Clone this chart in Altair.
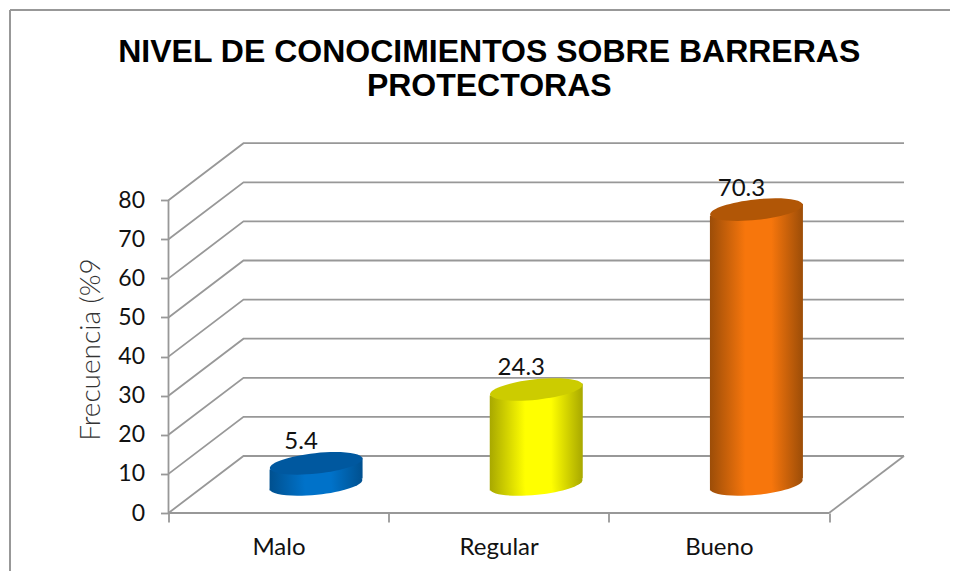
import altair as alt
import pandas as pd

categorias = ["Malo", "Regular", "Bueno"]
valores = [5.4, 24.3, 70.3]
etiquetas = ["5.4", "24.3", "70.3"]
colores = [
    ("#00508f", "#0072c9", "#00589f"),
    ("#a8a800", "#ffff00", "#cccc00"),
    ("#9c4d08", "#f7760c", "#b15606"),
]
ticks = [0, 10, 20, 30, 40, 50, 60, 70, 80]

# scene geometry in data units
PX_X = 220.17
PX_Y = 3.91
DX = 75 / PX_X
DY = 57 / PX_Y
XDOM = [0, 737.5 / PX_X]
YDOM = [0, 370 / PX_Y]
GRIS = "#989898"
BAR_RX = 46.5 / PX_X
TILT = 6 / PX_Y

xs = alt.Scale(domain=XDOM, nice=False, zero=False)
ys = alt.Scale(domain=YDOM, nice=False, zero=False)
AX = alt.Axis(
    values=[0, 1, 2, 3], grid=False, domain=False, ticks=True, tickColor=GRIS, tickWidth=1.8, tickSize=9,
    labelExpr="datum.value==0?'Malo':datum.value==1?'Regular':datum.value==2?'Bueno':''",
    labelOffset=110, labelFont="Lato", labelFontSize=24, labelColor="#111111", labelPadding=13, labelAngle=0,
    labelOverlap=False, labelFlush=False, labelBound=False)
AY = alt.Axis(
    values=ticks, grid=False, domain=False, ticks=True, tickColor=GRIS, tickWidth=1.8, tickSize=8,
    labelFont="Lato", labelFontSize=23, labelColor="#111111", labelPadding=16,
    labelOverlap=False, labelFlush=False, labelBound=False,
    titleFont="Lato", titleFontWeight=300, titleFontSize=28, titleColor="#333333",
    titleX=-63, titleY=206)
X = lambda f="x": alt.X(f + ":Q", scale=xs, axis=AX, title=None)
Y = lambda f="y": alt.Y(f + ":Q", scale=ys, axis=AY, title="Frecuencia (%9")

# walls
rows = []
for t in ticks:
    rows += [dict(g=t, o=0, x=0, y=t), dict(g=t, o=1, x=DX, y=t + DY), dict(g=t, o=2, x=3 + DX, y=t + DY)]
rows += [dict(g=-1, o=0, x=3, y=0), dict(g=-1, o=1, x=3 + DX, y=DY)]
walls = alt.Chart(pd.DataFrame(rows)).mark_line(color=GRIS, strokeWidth=1.8).encode(
    x=X(), y=Y(), detail="g:N", order="o:Q")

# axis lines
ejes = [
    alt.Chart(pd.DataFrame({"x": [0, 0], "y": [0, 80]})).mark_line(color=GRIS, strokeWidth=1.8).encode(x=X(), y=Y()),
    alt.Chart(pd.DataFrame({"x": [0, 3], "y": [0, 0]})).mark_line(color=GRIS, strokeWidth=1.8).encode(x=X(), y=Y()),
]

# outer frame
FL = (10 - 168.5) / PX_X
FR = (950 - 168.5) / PX_X
FT = (513 - 10) / PX_Y
FB = (513 - 571) / PX_Y
frame = [
    alt.Chart(pd.DataFrame({"x": [FL, FL], "y": [FB, FT]})).mark_line(color=GRIS, strokeWidth=2, clip=False).encode(x=X(), y=Y()),
    alt.Chart(pd.DataFrame({"x": [FL, FR], "y": [FT, FT]})).mark_line(color=GRIS, strokeWidth=2, clip=False).encode(x=X(), y=Y()),
]

ELIPSE = "M-1,0A1,0.22,0,1,1,1,0A1,0.22,0,1,1,-1,0Z"
SIZE = 93 ** 2

def grad(c):
    return alt.LinearGradient(
        gradient="linear", x1=0, x2=1, y1=0, y2=0,
        stops=[alt.GradientStop(offset=0, color=c[0]),
               alt.GradientStop(offset=0.38, color=c[1]),
               alt.GradientStop(offset=0.66, color=c[1]),
               alt.GradientStop(offset=1, color=c[0])])

barras = []
for i, (cat, v, lab, c) in enumerate(zip(categorias, valores, etiquetas, colores)):
    cx = i + 0.5 + DX / 2
    y0 = DY / 2
    y1 = DY / 2 + v
    body = pd.DataFrame({
        "x": [cx - BAR_RX, cx + BAR_RX],
        "y": [y1 - TILT, y1 + TILT],
        "y2": [y0 - TILT, y0 + TILT],
    })
    barras.append(alt.Chart(pd.DataFrame({"x": [cx], "y": [y0]})).mark_point(
        shape=ELIPSE, size=SIZE, filled=True, fill=grad(c), opacity=1, angle=354).encode(x=X(), y=Y()))
    barras.append(alt.Chart(body).mark_area(fill=grad(c), orient="vertical", opacity=1).encode(
        x=X(), y=Y(), y2="y2:Q"))
    barras.append(alt.Chart(pd.DataFrame({"x": [cx], "y": [y1]})).mark_point(
        shape=ELIPSE, size=SIZE, filled=True, fill=c[2], opacity=1, angle=354).encode(x=X(), y=Y()))
    barras.append(alt.Chart(pd.DataFrame({"x": [cx], "y": [y1], "t": [lab]})).mark_text(
        font="Lato", fontSize=24, color="#111111", dy=-21, dx=-15).encode(x=X(), y=Y(), text="t:N"))

chart = alt.layer(walls, *ejes, *frame, *barras).properties(
    width=737.5,
    height=370,
    padding={"left": 160.5, "top": 135, "right": 44, "bottom": 58},
    autosize=alt.AutoSizeParams(type="none"),
    background="white",
    title=alt.TitleParams(
        text=["NIVEL DE CONOCIMIENTOS SOBRE BARRERAS", "PROTECTORAS"],
        font="Liberation Sans", fontSize=32, fontWeight="bold", color="#000000",
        anchor="middle", frame="group", dx=-48, offset=-97, lineHeight=34),
).configure_view(stroke=None)

chart.save("out.html", embed_options={"renderer": "svg", "actions": False})
